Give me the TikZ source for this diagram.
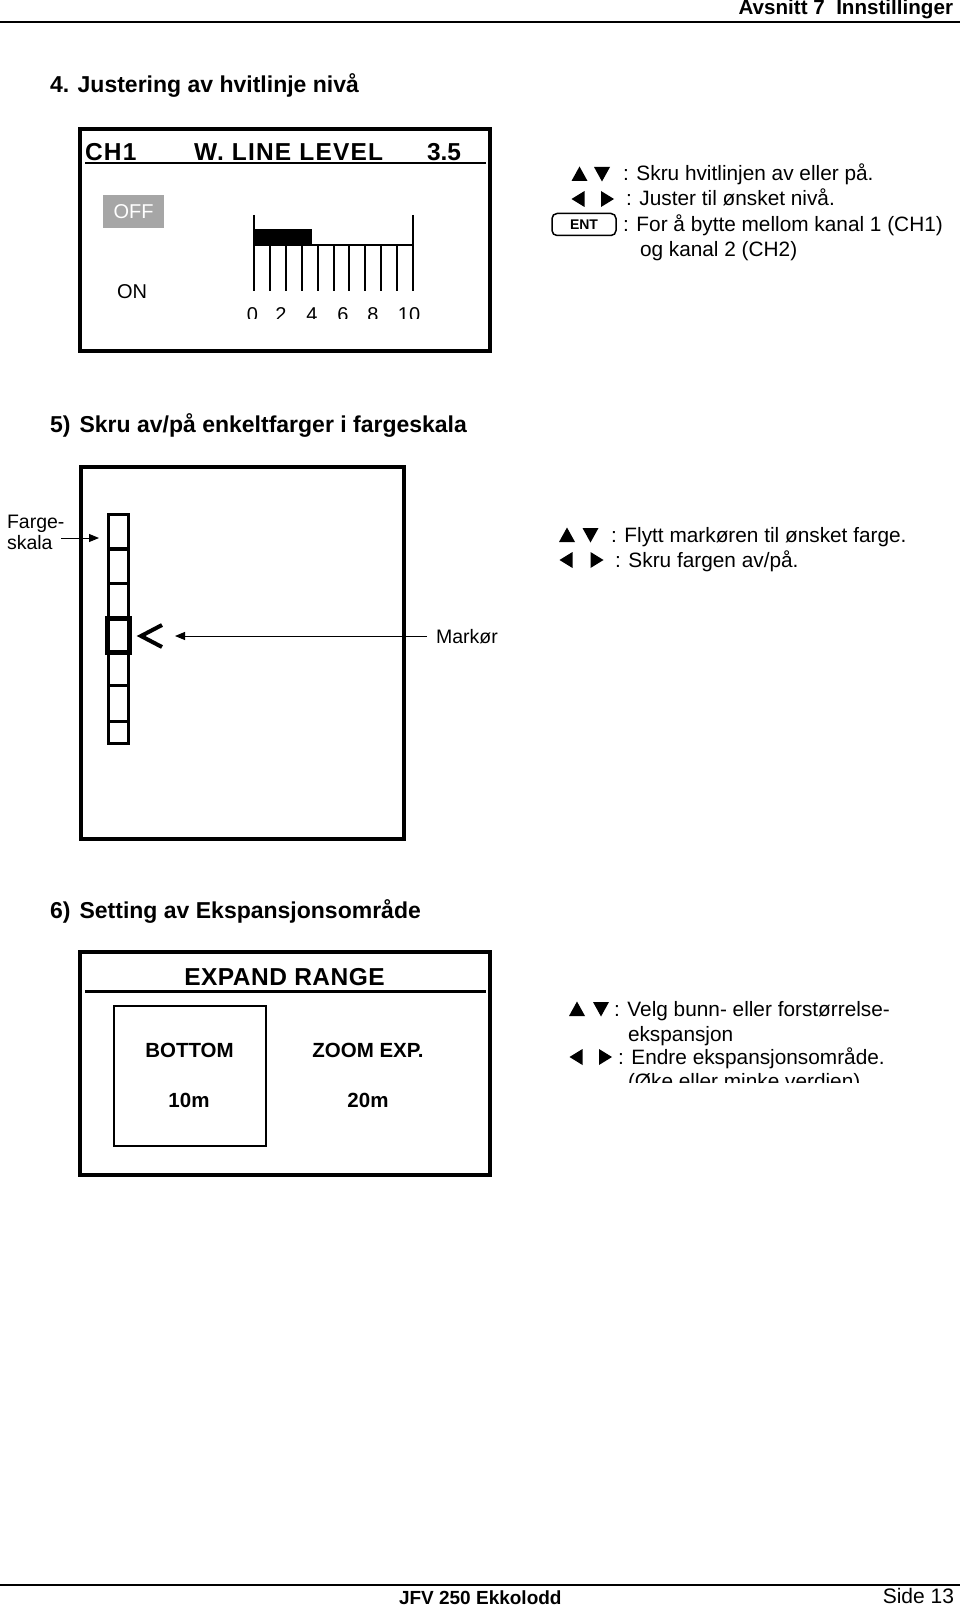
\documentclass[tikz,border=0pt]{standalone}
\usepackage{fontspec}
\setmainfont{Liberation Sans}
\newfontfamily\lcdwide[LetterSpace=5]{Liberation Sans}
\newfontfamily\lcdmid[LetterSpace=2]{Liberation Sans}
\usetikzlibrary{arrows.meta}
\newcommand{\myfs}[1]{\fontsize{#1}{#1}\selectfont}
\begin{document}
\begin{tikzpicture}[x=1pt,y=-1pt,
  txt/.style={inner sep=0pt, outer sep=0pt, anchor=base west},
  body/.style={txt, font=\myfs{20.8}},
  head/.style={txt, font=\bfseries\myfs{23}},
  lcd/.style={txt, anchor=base, font=\bfseries\myfs{20.5}},
  panel/.style={draw=black, line width=4pt},
  rule/.style={line width=2pt},
  sq/.style={draw, line width=3pt, minimum width=20pt, inner sep=0pt, outer sep=0pt},
  arr/.style={line width=1pt, -{Triangle[length=10pt,width=8pt]}},
  tup/.pic={\fill (-8,7) -- (8,7) -- (0,-7.5) -- cycle;},
  tdown/.pic={\fill (-8,-7) -- (8,-7) -- (0,7.5) -- cycle;},
  tleft/.pic={\fill (6.5,-8) -- (6.5,8) -- (-6.5,0) -- cycle;},
  tright/.pic={\fill (-6.5,-8) -- (-6.5,8) -- (6.5,0) -- cycle;},
]
\useasboundingbox (0,0) rectangle (960,1605);
\fill[white] (0,0) rectangle (960,1605);
\begin{scope}
\clip (0,0) rectangle (960,1605);

% header
\node[txt, anchor=base east, font=\bfseries\myfs{20.6}] (hdr) at (953,15) {Avsnitt 7~ Innstillinger};
\coordinate (hl0) at (0,22.5); \coordinate (hl1) at (960,22.5);
\draw[rule] (hl0) -- (hl1);

% ---------- section 4 ----------
\node[head] (t4) at (50,93) {4. Justering av hvitlinje nivå};
\draw[panel] (80,129) rectangle (490,351);
\coordinate (u0) at (85,163); \coordinate (u1) at (486,163);
\draw[line width=2.5pt] (u0) -- (u1);
\node[txt, font=\lcdwide\bfseries\myfs{24.5}] (ch) at (85,161) {CH1};
\node[txt, font=\lcdwide\bfseries\myfs{24.5}] (wll) at (194,161) {W. LINE LEVEL};
\node[txt, font=\bfseries\myfs{24.5}] (val) at (427,161) {3.5};
\node[fill=black!35, text=white, minimum width=61pt, minimum height=33pt, inner sep=0pt, font=\myfs{20}] (off) at (133.5,211.5) {OFF};
\node[inner sep=0pt, font=\myfs{20}] (on) at (132,292) {ON};
% bar scale
\fill (254,229) rectangle (312,246);
\draw[rule] (254,215) -- (254,291);
\draw[rule] (413,215) -- (413,291);
\draw[rule] (254,245) -- (413,245);
\foreach \i in {1,...,9} \draw[rule] ({254+\i*15.9},245) -- ({254+\i*15.9},291);
\begin{scope}
\clip (230,295) rectangle (440,318);
\foreach \x/\l/\n in {252.5/0/a,281/2/b,312/4/c,343/6/d,373/8/e,409/10/f}
  \node[txt, anchor=base, font=\myfs{20}] (sc\n) at (\x,321.5) {\l};
\end{scope}
% legend
\pic at (579.5,174) {tup}; \pic at (602,174) {tdown};
\node[body] (l41) at (623,181) {: Skru hvitlinjen av eller på.};
\pic at (578,199) {tleft}; \pic at (607.5,199) {tright};
\node[body] (l42) at (626,206) {: Juster til ønsket nivå.};
\node[draw, rounded corners=5pt, line width=1.5pt, minimum width=64pt, minimum height=22pt, inner sep=0pt, font=\bfseries\myfs{14}] (ent) at (584,224.5) {ENT};
\node[body] (l43) at (623,232) {: For å bytte mellom kanal 1 (CH1)};
\node[body] (l44) at (640,257) {og kanal 2 (CH2)};

% ---------- section 5 ----------
\node[head] (t5) at (50,432) {5)\hspace{0.12em} Skru av/på enkeltfarger i fargeskala};
\draw[draw=black, line width=3.5pt] (81,467) rectangle (404,839);
\node[sq, minimum height=34pt] (s1) at (118.5,531.5) {};
\node[sq, minimum height=34pt] (s2) at (118.5,566) {};
\node[sq, minimum height=34pt] (s3) at (118.5,600) {};
\node[sq, line width=5pt, minimum width=22pt, minimum height=34pt] (s4) at (118.5,635) {};
\node[sq, minimum height=32pt] (s5) at (118.5,669) {};
\node[sq, minimum height=36pt] (s6) at (118.5,703) {};
\node[sq, minimum height=22pt] (s7) at (118.5,732) {};
\node[txt, font=\myfs{19.5}] (fa) at (7,528.5) {Farge-};
\node[txt, font=\myfs{19.5}] (fb) at (7,549.5) {skala};
\coordinate (fa0) at (61,538); \coordinate (fa1) at (99,538);
\draw[arr] (fa0) -- (fa1);
\draw[line width=4pt, line join=miter] (162,625) -- (141,636) -- (162,647);
\node[txt, font=\myfs{19.5}] (mk) at (436,643) {Markør};
\coordinate (mk0) at (427,636); \coordinate (mk1) at (175,636);
\draw[arr] (mk0) -- (mk1);
\pic at (567,535) {tup}; \pic at (590.5,535) {tdown};
\node[body] (l51) at (611,542) {: Flytt markøren til ønsket farge.};
\pic at (566,560) {tleft}; \pic at (597,560) {tright};
\node[body] (l52) at (615,567) {: Skru fargen av/på.};

% ---------- section 6 ----------
\node[head] (t6) at (50,918) {6)\hspace{0.12em} Setting av Ekspansjonsområde};
\draw[panel] (80,952) rectangle (490,1175);
\coordinate (v0) at (85,991); \coordinate (v1) at (486,991);
\draw[line width=3pt] (v0) -- (v1);
\node[txt, anchor=base, font=\lcdmid\bfseries\myfs{24.5}] (er) at (284.5,985) {EXPAND RANGE};
\draw[line width=2pt] (114,1006) rectangle (266,1146);
\node[lcd] (bt) at (189.5,1057) {BOTTOM};
\node[lcd] (bv) at (189,1107) {10m};
\node[lcd] (zt) at (368,1057) {ZOOM EXP.};
\node[lcd] (zv) at (368,1107) {20m};
\pic at (577,1009) {tup}; \pic at (601,1009) {tdown};
\node[body] (l61) at (614,1016) {: Velg bunn- eller forstørrelse-};
\node[body] (l62) at (628,1041) {ekspansjon};
\pic at (576,1057) {tleft}; \pic at (605.5,1057) {tright};
\node[body] (l63) at (618,1064) {: Endre ekspansjonsområde.};
\begin{scope}
\clip (600,1060) rectangle (960,1082);
\node[body] (l64) at (628,1088) {(Øke eller minke verdien)};
\end{scope}

% footer
\coordinate (fl0) at (0,1585); \coordinate (fl1) at (960,1585);
\draw[rule] (fl0) -- (fl1);
\node[txt, font=\bfseries\myfs{19}] (ft) at (399,1604) {JFV 250 Ekkolodd};
\node[txt, anchor=base east, font=\myfs{21}] (pg) at (954,1603) {Side 13};
\end{scope}
\end{tikzpicture}
\end{document}
